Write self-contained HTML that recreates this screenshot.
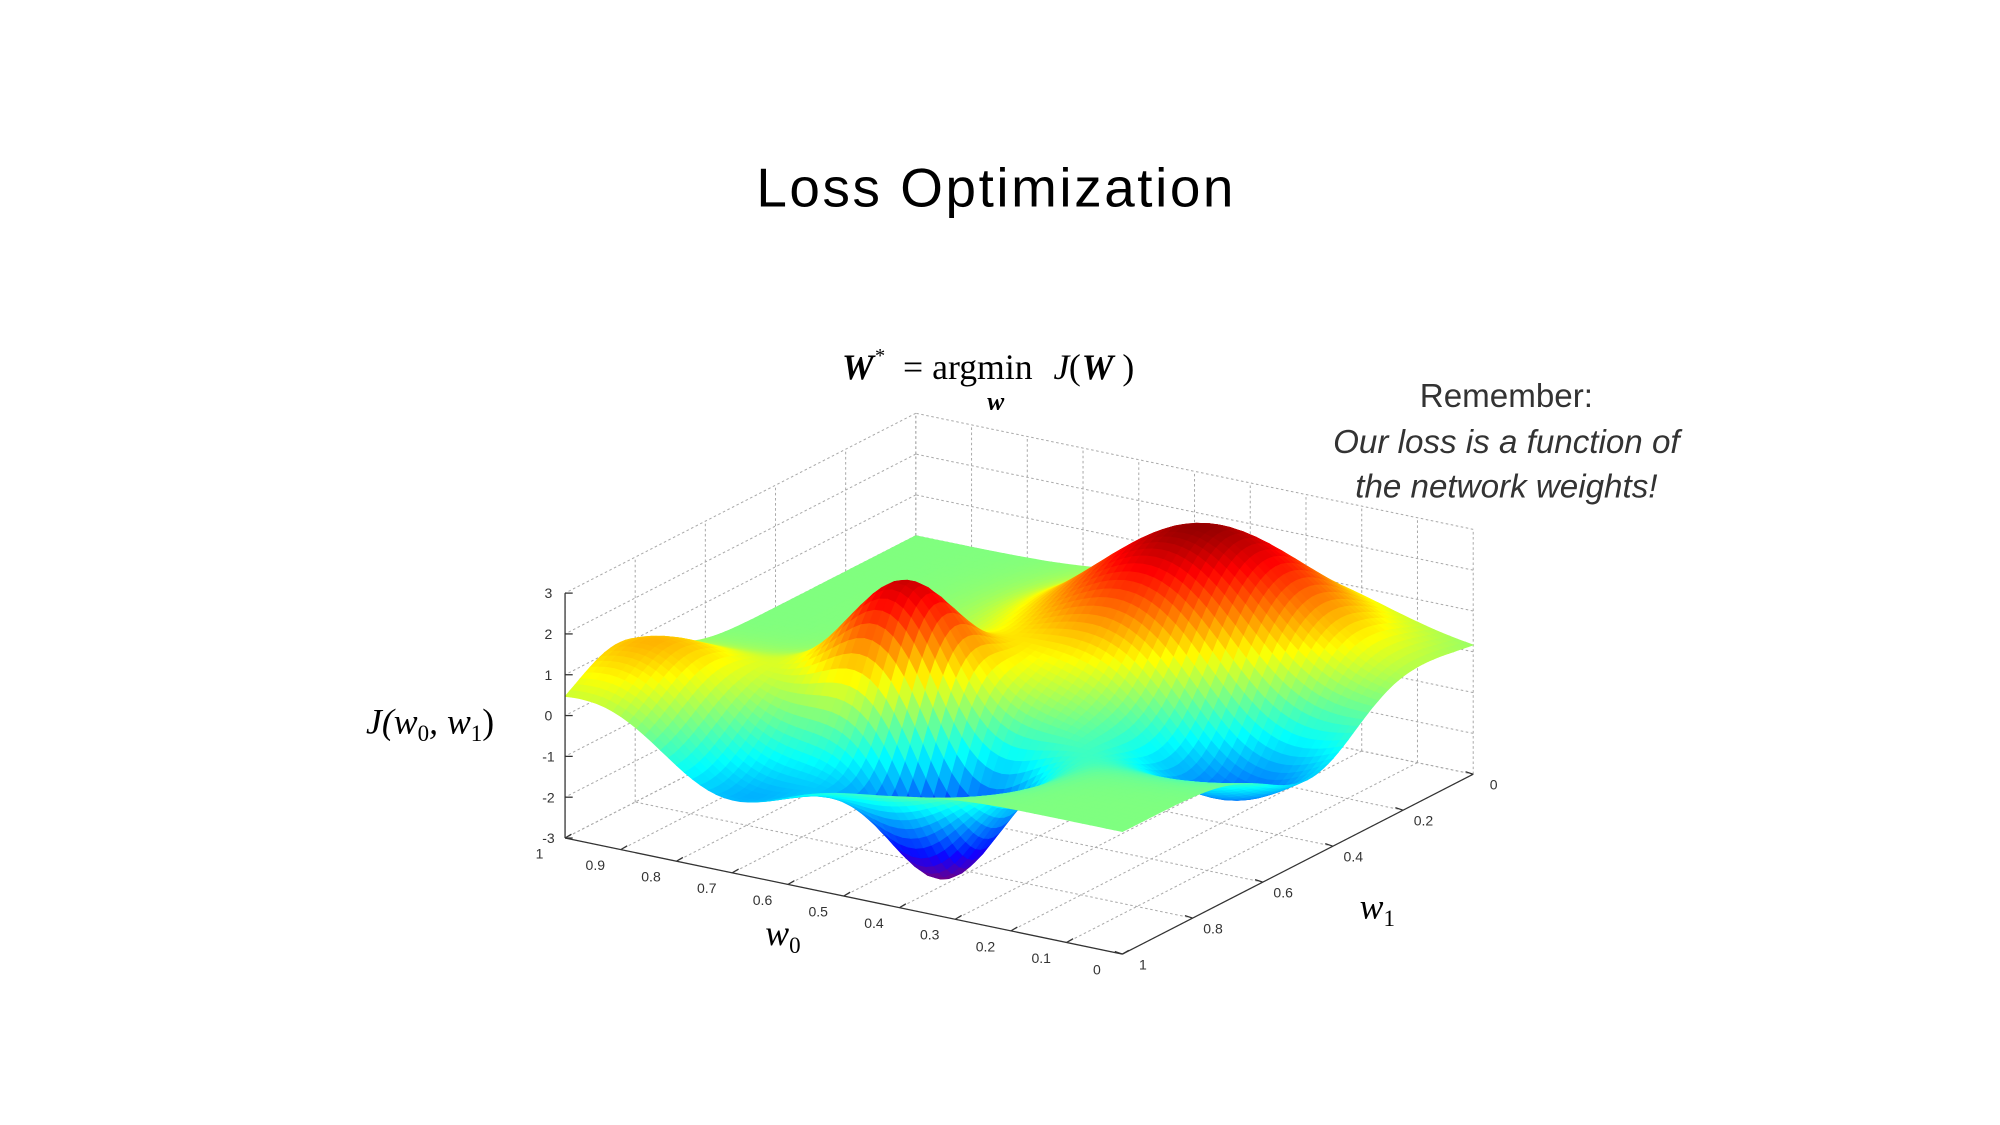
<!DOCTYPE html>
<html><head><meta charset="utf-8"><style>
html,body{margin:0;padding:0;background:#fff;}
svg{display:block;}
</style></head><body>
<svg id="chart" width="2000" height="1125" viewBox="0 0 1568 882" xmlns="http://www.w3.org/2000/svg">
<rect width="1568" height="882" fill="#fff"/>
<text x="780" y="162" text-anchor="middle" font-family="Liberation Sans, sans-serif" font-size="43" textLength="374" fill="#000">Loss Optimization</text>
<g font-family="Liberation Serif, serif" fill="#000">
<text x="660" y="297" font-size="28" font-weight="bold" font-style="italic">W</text>
<text x="686" y="284" font-size="16">*</text>
<text x="708" y="297" font-size="28">= argmin</text>
<text x="826" y="297" font-size="28" font-style="italic">J</text>
<text x="838" y="297" font-size="28">(</text>
<text x="848" y="297" font-size="28" font-weight="bold" font-style="italic">W</text>
<text x="880" y="297" font-size="28">)</text>
<text x="774" y="321" font-size="20" font-weight="bold" font-style="italic">w</text>
</g>
<g font-family="Liberation Sans, sans-serif" fill="#333" text-anchor="middle" font-size="26">
<text x="1181" y="319">Remember:</text>
<text x="1181" y="355" font-style="italic">Our loss is a function of</text>
<text x="1181" y="390" font-style="italic">the network weights!</text>
</g>
<g id="grid"></g>
<g id="surface"></g>
<g id="axes"></g>
<g font-family="Liberation Serif, serif" font-style="italic" fill="#000">
<text x="287" y="575" font-size="28">J(w<tspan font-size="18" dy="6" font-style="normal">0</tspan><tspan dy="-6">, w</tspan><tspan font-size="18" dy="6" font-style="normal">1</tspan><tspan dy="-6" font-style="normal">)</tspan></text>
<text x="600" y="741" font-size="28">w<tspan font-size="18" dy="6" font-style="normal">0</tspan></text>
<text x="1066" y="720" font-size="28">w<tspan font-size="18" dy="6" font-style="normal">1</tspan></text>
</g>
</svg>
<script>
// surface bumps (data): centers, amplitudes, widths
const bumpW0 = [0.33, 0.619, 0.446, 0.15, 0.916, 0.72];
const bumpW1 = [0.25, 0.641, 0.80, 0.45, 0.854, 0.95];
const bumpAmp = [3.3, 2.8, -3.3, -2.5, 1.5, -1.5];
const bumpSigma = [0.17, 0.09, 0.09, 0.13, 0.12, 0.12];
const zTicks = [3, 2, 1, 0, -1, -2, -3];
const w0Ticks = [1, 0.9, 0.8, 0.7, 0.6, 0.5, 0.4, 0.3, 0.2, 0.1, 0];
const w1Ticks = [0, 0.2, 0.4, 0.6, 0.8, 1];
const NS = "http://www.w3.org/2000/svg";
function P(w0, w1, z){
  return [880 - 437*w0 + 275*(1-w1), 748 - 91*w0 - 141*(1-w1) - (z+3)*32];
}
function J(w0, w1){
  let z = 0;
  for (let i=0;i<bumpAmp.length;i++){
    const d = (w0-bumpW0[i])**2 + (w1-bumpW1[i])**2;
    z += bumpAmp[i]*Math.exp(-d/(2*bumpSigma[i]**2));
  }
  return z;
}
function jet(t){
  t = Math.max(0, Math.min(1, t));
  let r = Math.max(0, Math.min(1, 1.5 - Math.abs(4*t-3)));
  const g = Math.max(0, Math.min(1, 1.5 - Math.abs(4*t-2)));
  const b = Math.max(0, Math.min(1, 1.5 - Math.abs(4*t-1)));
  if (t < 0.15) r = Math.max(r, (0.15 - t)/0.15*0.45);
  return `rgb(${Math.round(r*255)},${Math.round(g*255)},${Math.round(b*255)})`;
}
function line(parent, a, b, stroke, dash, w){
  const l = document.createElementNS(NS, "line");
  
  
  l.setAttribute("x1", a[0]); l.setAttribute("y1", a[1]);
  l.setAttribute("x2", b[0]); l.setAttribute("y2", b[1]);
  l.setAttribute("stroke", stroke); l.setAttribute("stroke-width", w || 0.8);
  if (dash) l.setAttribute("stroke-dasharray", dash);
  parent.appendChild(l);
  return l;
}
function text(parent, p, s, name){
  const t = document.createElementNS(NS, "text");
  
  
  t.setAttribute("x", p[0]); t.setAttribute("y", p[1]);
  t.setAttribute("font-family", "Liberation Sans, sans-serif");
  t.setAttribute("font-size", "11");
  t.setAttribute("fill", "#333");
  t.setAttribute("text-anchor", "middle");
  t.textContent = s;
  parent.appendChild(t);
}
const grid = document.getElementById("grid");
const gc = "#aaa", gd = "2 2";
w1Ticks.forEach(v => line(grid, P(1, v, -3), P(1, v, 3), gc, gd));
zTicks.forEach(z => line(grid, P(1, 0, z), P(1, 1, z), gc, gd));
w0Ticks.forEach(v => line(grid, P(v, 0, -3), P(v, 0, 3), gc, gd));
zTicks.forEach(z => line(grid, P(0, 0, z), P(1, 0, z), gc, gd));
w0Ticks.forEach(v => line(grid, P(v, 0, -3), P(v, 1, -3), gc, gd));
w1Ticks.forEach(v => line(grid, P(0, v, -3), P(1, v, -3), gc, gd));

const surf = document.getElementById("surface");
const N = 70;
const quads = [];
for (let i=0;i<N;i++) for (let j=0;j<N;j++){
  const a0=i/N, a1=(i+1)/N, b0=j/N, b1=(j+1)/N;
  const zs = [J(a0,b0), J(a1,b0), J(a1,b1), J(a0,b1)];
  const pts = [P(a0,b0,zs[0]), P(a1,b0,zs[1]), P(a1,b1,zs[2]), P(a0,b1,zs[3])];
  const depth = (a0+a1)/2 + (1-(b0+b1)/2);
  quads.push({pts, z:(zs[0]+zs[1]+zs[2]+zs[3])/4, depth});
}
quads.sort((p,q)=>q.depth-p.depth);
quads.forEach(q=>{
  const pg = document.createElementNS(NS, "polygon");
  
  
  pg.setAttribute("points", q.pts.map(p=>p[0].toFixed(1)+","+p[1].toFixed(1)).join(" "));
  const c = jet((q.z+3.2)/6.4);
  pg.setAttribute("fill", c); pg.setAttribute("stroke", c); pg.setAttribute("stroke-width", "0.6");
  surf.appendChild(pg);
});

const axes = document.getElementById("axes");
const ac = "#333";
line(axes, P(1,1,-3), P(1,1,3), ac, null, 1);
zTicks.forEach(z=>{
  const p = P(1,1,z);
  line(axes, p, [p[0]+6,p[1]], ac, null, 1);
  text(axes, [p[0]-13, p[1]+4], String(z), 'z-tick-label');
});
line(axes, P(1,1,-3), P(0,1,-3), ac, null, 1);
w0Ticks.forEach(v=>{
  const p = P(v,1,-3);
  line(axes, p, [p[0]+5,p[1]-3], ac, null, 1);
  text(axes, [p[0]-20, p[1]+16], String(v), 'w0-tick-label');
});
line(axes, P(0,1,-3), P(0,0,-3), ac, null, 1);
w1Ticks.forEach(v=>{
  const p = P(0,v,-3);
  line(axes, p, [p[0]-6,p[1]-2], ac, null, 1);
  text(axes, [p[0]+16, p[1]+12], String(v), 'w1-tick-label');
});
</script>
</body></html>
